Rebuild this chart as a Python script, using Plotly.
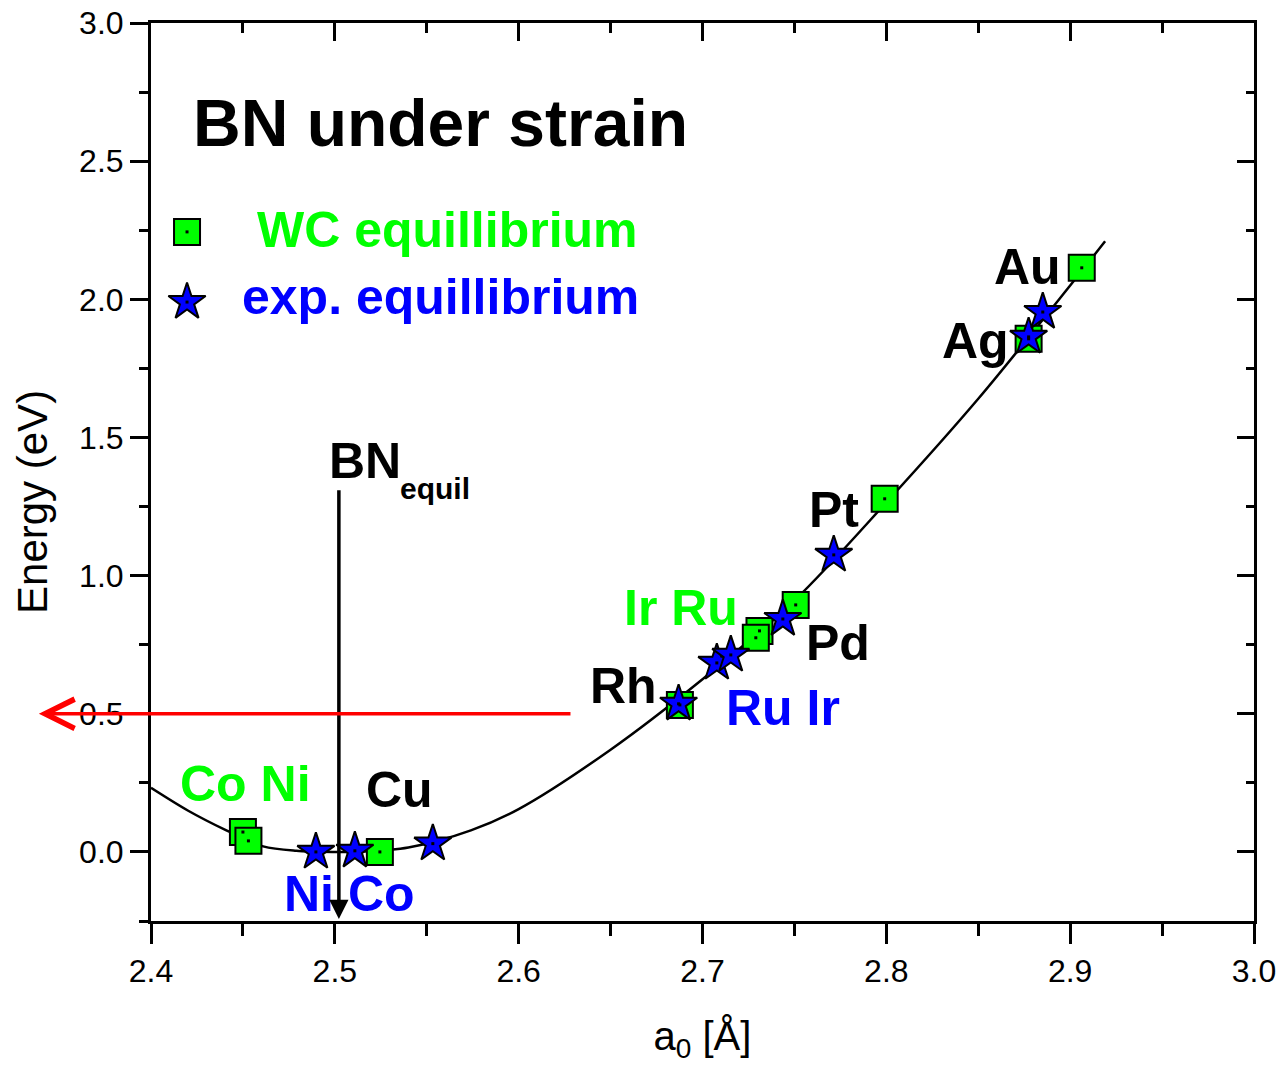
import plotly.graph_objects as go

# ---------------- data ----------------
# WC equilibrium lattice constants (squares)
wc_metal = ["Co", "Ni", "Cu", "Rh", "Ru", "Ir", "Pd", "Pt", "Ag", "Au"]
wc_a0 = [2.450, 2.453, 2.5245, 2.6877, 2.731, 2.729, 2.7507, 2.7991, 2.8774, 2.9063]
wc_energy = [0.072, 0.040, 0.000, 0.532, 0.800, 0.775, 0.894, 1.278, 1.857, 2.114]

# experimental equilibrium lattice constants (stars)
exp_metal = ["Ni", "Co", "Cu", "Rh", "Ru", "Ir", "Pd", "Pt", "Ag", "Au"]
exp_a0 = [2.4897, 2.5109, 2.5533, 2.687, 2.7078, 2.7154, 2.7437, 2.7714, 2.8774, 2.8851]
exp_energy = [0.000, 0.004, 0.030, 0.536, 0.684, 0.713, 0.843, 1.075, 1.864, 1.954]

# BN strain energy curve
curve_a0 = [2.400, 2.420, 2.441, 2.461, 2.479, 2.500, 2.515, 2.540, 2.574, 2.600,
            2.650, 2.700, 2.750, 2.800, 2.850, 2.900, 2.919]
curve_energy = [0.232, 0.150, 0.078, 0.020, 0.004, 0.000, 0.001, 0.016, 0.078, 0.155,
                0.370, 0.625, 0.910, 1.265, 1.640, 2.050, 2.210]

# BN equilibrium marker and 0.5 eV level
bn_equil_a0 = 2.5022
bn_arrow_top = 1.314
level_energy = 0.5

x_range = [2.4, 3.0]
y_range = [-0.25, 3.0]
x_ticks = [2.4, 2.5, 2.6, 2.7, 2.8, 2.9, 3.0]
x_ticklabels = ["2.4", "2.5", "2.6", "2.7", "2.8", "2.9", "3.0"]
y_ticks = [0.0, 0.5, 1.0, 1.5, 2.0, 2.5, 3.0]
y_ticklabels = ["0.0", "0.5", "1.0", "1.5", "2.0", "2.5", "3.0"]

# ---------------- style ----------------
GREEN = "#00ff00"
BLUE = "#0000ff"
RED = "#ff0000"
FONT = "Arial, 'Liberation Sans', sans-serif"

fig = go.Figure()

fig.add_trace(go.Scatter(x=curve_a0, y=curve_energy, mode="lines",
                         line=dict(color="black", width=2.5, shape="spline", smoothing=0.9),
                         showlegend=False, hoverinfo="skip"))

fig.add_trace(go.Scatter(x=wc_a0, y=wc_energy, mode="markers", text=wc_metal,
                         marker=dict(symbol="square", size=26, color=GREEN,
                                     line=dict(color="black", width=2)),
                         showlegend=False))
fig.add_trace(go.Scatter(x=exp_a0, y=exp_energy, mode="markers", text=exp_metal,
                         marker=dict(symbol="star", size=28, color=BLUE,
                                     line=dict(color="black", width=2)),
                         showlegend=False))
# small centre dots (Origin style)
fig.add_trace(go.Scatter(x=wc_a0 + exp_a0, y=wc_energy + exp_energy, mode="markers",
                         marker=dict(symbol="square", size=3, color="black"),
                         showlegend=False, hoverinfo="skip"))

# manual legend samples (layout positions)
LEG_X = 2.4196
LEG_Y = [2.244, 1.99]
fig.add_trace(go.Scatter(x=[LEG_X], y=[LEG_Y[0]], mode="markers",
                         marker=dict(symbol="square", size=26, color=GREEN,
                                     line=dict(color="black", width=2)),
                         showlegend=False, hoverinfo="skip"))
fig.add_trace(go.Scatter(x=[LEG_X], y=[LEG_Y[1]], mode="markers",
                         marker=dict(symbol="star", size=28, color=BLUE,
                                     line=dict(color="black", width=2)),
                         showlegend=False, hoverinfo="skip"))
fig.add_trace(go.Scatter(x=[LEG_X, LEG_X], y=LEG_Y, mode="markers",
                         marker=dict(symbol="square", size=3, color="black"),
                         showlegend=False, hoverinfo="skip"))

# dummy trace for mirrored (inside-tick) axes
fig.add_trace(go.Scatter(x=[None], y=[None], xaxis="x2", yaxis="y2",
                         showlegend=False, hoverinfo="skip"))

def label(x, y, text, color, size=50, bold=True):
    fig.add_annotation(x=x, y=y, xref="x", yref="y", text=(f"<b>{text}</b>" if bold else text),
                       showarrow=False, xanchor="left", yanchor="middle",
                       font=dict(family=FONT, size=size, color=color))

label(2.4215, 2.638, "BN under strain", "black", size=66)
label(2.4566, 2.251, "WC equillibrium", GREEN)
label(2.4484, 2.009, "exp. equillibrium", BLUE)
label(2.4957, 1.415, "BN", "black")
label(2.5343, 1.314, "equil", "black", size=30)
label(2.4147, 0.246, "Co Ni", GREEN)
label(2.5158, 0.224, "Cu", "black")
label(2.4712, -0.152, "Ni Co", BLUE)
label(2.6376, 0.601, "Rh", "black")
label(2.6561, 0.883, "Ir Ru", GREEN)
label(2.7116, 0.521, "Ru Ir", BLUE)
label(2.7551, 0.756, "Pd", "black")
label(2.7567, 1.238, "Pt", "black")
label(2.8290, 1.849, "Ag", "black")
label(2.8573, 2.117, "Au", "black")

# vertical BN equilibrium arrow
fig.add_annotation(x=bn_equil_a0, y=y_range[0] + 0.007, ax=bn_equil_a0, ay=bn_arrow_top,
                   xref="x", yref="y", axref="x", ayref="y", text="",
                   showarrow=True, arrowhead=2, arrowsize=1.1, arrowwidth=3.5, arrowcolor="black")
# red horizontal arrow at 0.5 eV
fig.add_annotation(x=2.339, y=level_energy, ax=2.629, ay=level_energy,
                   xref="x", yref="y", axref="x", ayref="y", text="",
                   showarrow=True, arrowhead=5, arrowsize=1.65, arrowwidth=3.5, arrowcolor=RED)

# y-axis title
fig.add_annotation(x=-0.107, y=0.4666, xref="paper", yref="paper", text="Energy (eV)",
                   textangle=-90, showarrow=False, xanchor="center", yanchor="middle",
                   font=dict(family=FONT, size=42, color="black"))

axis_common = dict(showgrid=False, zeroline=False, showline=True, linecolor="black",
                   linewidth=3, tickcolor="black", tickwidth=3, automargin=False)

fig.update_layout(
    width=1284, height=1068,
    margin=dict(l=151, r=30, t=23, b=147, autoexpand=False),
    paper_bgcolor="white", plot_bgcolor="white",
    font=dict(family=FONT, color="black"),
    xaxis=dict(range=x_range, tickmode="array", tickvals=x_ticks, ticktext=x_ticklabels,
               ticks="outside", ticklen=20,
               minor=dict(dtick=0.05, ticks="outside", ticklen=12, tickwidth=3, tickcolor="black"),
               tickfont=dict(family=FONT, size=32, color="black"),
               title=dict(text="a<sub>0</sub> [Å]", font=dict(family=FONT, size=40, color="black"),
                          standoff=34),
               **axis_common),
    yaxis=dict(range=y_range, tickmode="array", tickvals=y_ticks, ticktext=y_ticklabels,
               ticks="outside", ticklen=18,
               minor=dict(dtick=0.25, tick0=0, ticks="outside", ticklen=9, tickwidth=3, tickcolor="black"),
               tickfont=dict(family=FONT, size=32, color="black"),
               **axis_common),
    xaxis2=dict(range=x_range, overlaying="x", side="top", anchor="y2",
                tickmode="array", tickvals=x_ticks, showticklabels=False,
                ticks="inside", ticklen=18,
                minor=dict(dtick=0.05, ticks="inside", ticklen=10, tickwidth=3, tickcolor="black"),
                **axis_common),
    yaxis2=dict(range=y_range, overlaying="y", side="right", anchor="x2",
                tickmode="array", tickvals=y_ticks, showticklabels=False,
                ticks="inside", ticklen=17,
                minor=dict(dtick=0.25, tick0=0, ticks="inside", ticklen=8, tickwidth=3, tickcolor="black"),
                **axis_common),
)

fig.write_html("out.html")
